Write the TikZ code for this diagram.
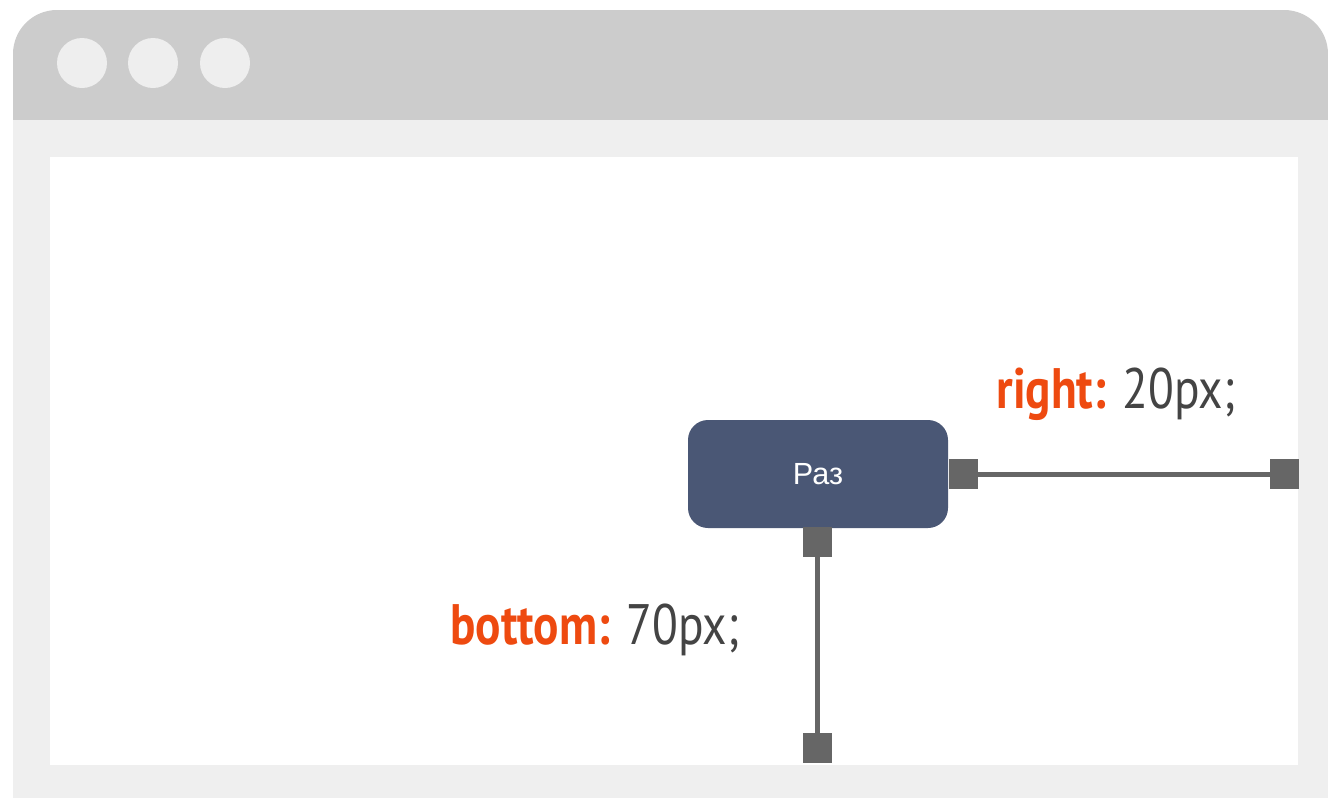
\documentclass[tikz,border=0pt]{standalone}
\usepackage{fontspec}
\newfontfamily\narrowfont{PT Sans}[FakeStretch=0.83]
\newfontfamily\boxfont{Liberation Sans}
\definecolor{barcol}{HTML}{CCCCCC}
\definecolor{bodycol}{HTML}{EFEFEF}
\definecolor{dotcol}{HTML}{EEEEEE}
\definecolor{boxcol}{HTML}{4A5775}
\definecolor{handlecol}{HTML}{666666}
\definecolor{keycol}{HTML}{EE4A10}
\definecolor{valcol}{HTML}{444444}
\tikzset{
  dot/.style={circle, fill=dotcol, minimum size=25pt, inner sep=0pt},
  elbox/.style={rectangle, rounded corners=10pt, fill=boxcol, minimum width=130pt, minimum height=54pt, inner sep=0pt, outer sep=0pt, text=white, font=\boxfont\fontsize{15.3}{17}\selectfont},
  handle/.style={rectangle, fill=handlecol, minimum width=14.5pt, minimum height=15pt, inner sep=0pt, outer sep=0pt},
  conn/.style={draw=handlecol, line width=2.5pt},
  cssl/.style={anchor=base west, inner sep=0pt, font=\narrowfont\fontsize{28.5}{32}\selectfont}
}
\begin{document}
\begin{tikzpicture}[x=0.5pt,y=-0.5pt]
\useasboundingbox (0,0) rectangle (1328,798);
\fill[white] (0,0) rectangle (1328,798);
\fill[barcol, rounded corners=22pt] (13,10) rectangle (1328,200);
\fill[bodycol] (13,120) rectangle (1328,798);
\fill[white] (50,157) rectangle (1298,765);
\node[dot] (d1) at (82,63) {};
\node[dot] (d2) at (153,63) {};
\node[dot] (d3) at (225,63) {};
\node[elbox] (box) at (818,474) {Раз};
\node[handle] (hr1) at (963,474) {};
\node[handle] (hr2) at (1284,474) {};
\node[handle] (hb1) at (817,542) {};
\node[handle] (hb2) at (817,748) {};
\draw[conn] (hr1) -- (hr2);
\draw[conn] (hb1) -- (hb2);
\node[cssl] (lr) at (996,408) {\textcolor{keycol}{\bfseries right:} \textcolor{valcol}{20px;}};
\node[cssl] (lb) at (450,644) {\textcolor{keycol}{\bfseries bottom:} \textcolor{valcol}{70px;}};
\end{tikzpicture}
\end{document}
